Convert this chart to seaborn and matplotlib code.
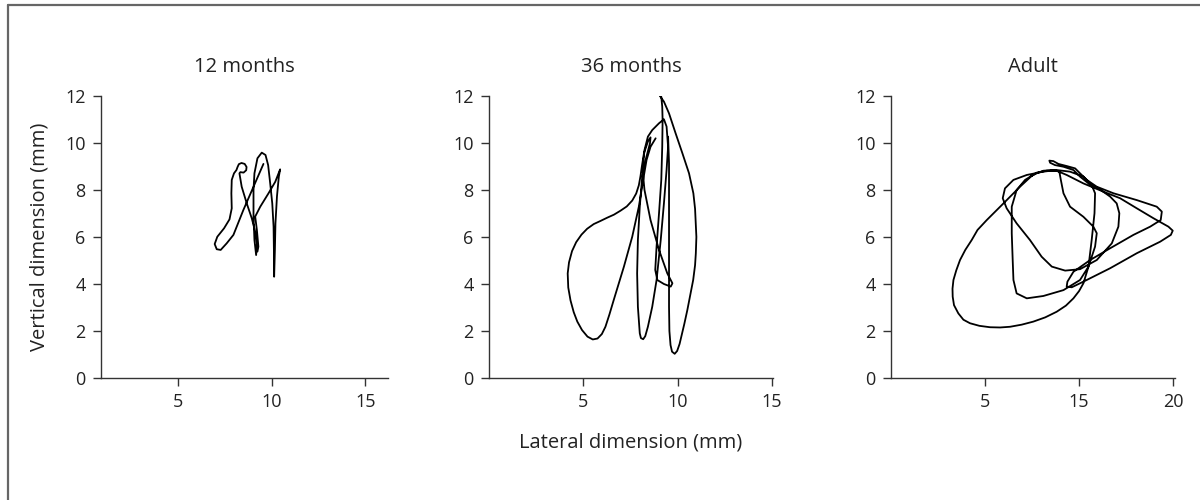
import matplotlib
matplotlib.use("Agg")
import matplotlib.pyplot as plt
from matplotlib.lines import Line2D
import pandas as pd
import seaborn as sns

# Jaw-movement traces (lateral vs vertical position, mm) for three age groups
titles = ["12 months", "36 months", "Adult"]

m12_x = [9.56, 9.03, 8.49, 7.96, 7.60, 7.28, 7.07, 6.96, 7.10, 7.46, 7.75, 7.87,
         7.85, 7.87, 7.99, 8.12, 8.18, 8.25, 8.39, 8.56, 8.66, 8.64, 8.50, 8.33,
         8.28, 8.40, 8.67, 8.94, 9.12, 9.21, 9.17, 9.08, 9.03, 9.03, 9.08, 9.24,
         9.47, 9.67, 9.81, 9.92, 10.03, 10.10, 10.12, 10.13, 10.17, 10.20, 10.28,
         10.38, 10.45, 10.19, 9.83, 9.39, 9.12, 9.21, 9.29, 9.24]
m12_y = [9.11, 8.14, 7.15, 6.09, 5.73, 5.45, 5.48, 5.70, 6.01, 6.37, 6.75, 7.22,
         7.86, 8.43, 8.71, 8.85, 8.98, 9.10, 9.15, 9.11, 8.98, 8.84, 8.74, 8.76,
         8.71, 8.14, 7.43, 6.79, 6.23, 5.73, 5.23, 5.87, 6.87, 8.00, 8.71, 9.35,
         9.59, 9.49, 9.06, 8.28, 7.43, 6.44, 5.31, 4.31, 5.45, 6.58, 7.72,
         8.57, 8.88, 8.35, 7.86, 7.29, 6.87, 6.30, 5.59, 5.38]

m36_x = [8.83, 8.56, 8.35, 8.17, 7.94, 7.59, 7.15, 6.61, 6.38, 6.17, 5.98, 5.75,
         5.50, 5.22, 4.93, 4.68, 4.49, 4.32, 4.20, 4.17, 4.24, 4.40, 4.62, 4.90,
         5.20, 5.55, 5.90, 6.26, 6.62, 6.97, 7.30, 7.59, 7.80, 7.94, 8.03, 8.10,
         8.21, 8.42, 8.56,
         8.53, 8.30, 8.12, 7.99, 7.89, 7.85, 7.89, 7.99, 8.05, 8.17, 8.28, 8.42,
         8.65, 8.88, 9.10, 9.27, 9.41, 9.49, 9.41, 9.27, 9.01, 8.65, 8.42, 8.24,
         8.14, 8.24, 8.56, 9.01, 9.45, 9.72, 9.63, 9.27, 8.92, 8.81, 8.88, 9.01,
         9.13, 9.18, 9.20, 9.18, 9.13, 9.06, 9.27, 9.54, 9.89, 10.25, 10.60,
         10.83, 10.92, 10.99, 10.96, 10.92, 10.82, 10.51, 10.35, 10.10, 9.97,
         9.84, 9.70, 9.62, 9.56, 9.54, 9.54, 9.54, 9.54, 9.54, 9.49]
m36_y = [10.20, 9.84, 9.28, 8.43, 7.29, 6.01, 4.74, 3.32, 2.70, 2.18, 1.87, 1.68,
         1.64, 1.76, 2.04, 2.40, 2.80, 3.30, 3.85, 4.45, 4.92, 5.40, 5.78, 6.10,
         6.35, 6.55, 6.68, 6.82, 6.95, 7.12, 7.30, 7.55, 7.85, 8.20, 8.60, 9.00,
         9.56, 10.06, 10.24,
         9.99, 9.28, 8.57, 7.29, 5.87, 4.45, 3.03, 1.90, 1.70, 1.65, 1.78, 2.18,
         3.03, 4.17, 5.87, 7.43, 8.85, 9.84, 10.70, 11.01, 10.84, 10.55, 10.27, 9.70,
         8.85, 8.00, 6.72, 5.45, 4.45, 4.03, 3.89, 4.00, 4.17, 4.60, 5.59, 7.01,
         8.43, 9.84, 10.98, 11.55, 11.97, 12.00, 11.76, 11.26, 10.41, 9.56, 8.71,
         7.86, 7.20, 6.00, 5.30, 4.80, 4.17, 2.89, 2.30, 1.45, 1.15,
         1.03, 1.12, 1.40, 2.00, 3.03, 4.74, 6.44, 7.86, 9.14, 10.27]

adult_x = [7.48, 6.86, 5.98, 5.09, 4.60, 4.29, 3.95, 3.67, 3.47, 3.32, 3.27, 3.28,
           3.35, 3.58, 3.85, 4.20, 4.70, 5.27, 5.80, 6.33, 6.95, 7.57, 8.20, 8.81,
           9.30, 9.70, 10.00, 10.23, 10.50, 10.67, 10.82, 10.85, 10.67, 10.23, 9.52,
           8.81, 8.10, 7.22, 6.51, 6.06, 5.94, 6.15, 6.68, 7.39, 8.01, 8.55, 9.26,
           10.05, 10.94, 11.74, 12.09, 12.14, 12.00, 11.65, 11.03, 10.50, 10.05,
           9.70, 9.17, 8.72, 8.46, 8.42, 8.63, 8.90, 9.34, 9.79, 10.05, 10.41,
           10.94, 11.83, 13.07, 14.13, 14.40, 14.34, 13.78, 12.89, 11.65, 10.59,
           9.70, 9.38, 9.34, 9.61, 10.23, 11.65, 13.07, 14.31, 14.88, 14.98, 14.75,
           13.95, 13.07, 12.18, 11.29, 10.23, 9.34, 8.81, 8.28, 7.75, 7.13, 6.68,
           6.42, 6.42, 6.47, 6.51, 6.68, 7.22, 8.10, 9.17, 10.05, 10.50, 10.85,
           10.94, 10.76, 10.23, 9.52, 9.17, 9.03, 8.95, 8.63, 8.10, 7.75, 7.48]
adult_y = [8.60, 8.14, 7.43, 6.72, 6.30, 5.87, 5.45, 5.02, 4.58, 4.17, 3.80, 3.46,
           3.10, 2.75, 2.48, 2.33, 2.22, 2.16, 2.15, 2.18, 2.27, 2.40, 2.58, 2.82,
           3.08, 3.39, 3.70, 4.03, 4.74, 5.87, 7.01, 7.86, 8.21, 8.57, 8.78,
           8.85, 8.78, 8.64, 8.43, 8.07, 7.65, 7.22, 6.58, 5.87, 5.16, 4.74, 4.57,
           4.63, 5.02, 5.73, 6.44, 7.01, 7.43, 7.72, 8.07, 8.28, 8.57,
           8.85, 8.99, 9.06, 9.16, 9.25, 9.23, 9.11, 9.02, 8.92, 8.71, 8.43,
           8.14, 7.86, 7.57, 7.29, 7.08, 6.72, 6.44, 6.09, 5.52, 5.02,
           4.52, 4.10, 3.89, 3.86, 4.10, 4.67, 5.31, 5.80, 6.09, 6.27, 6.44,
           6.80, 7.22, 7.65, 7.93, 8.28, 8.64, 8.82, 8.82, 8.74, 8.43, 8.00,
           7.29, 6.16, 5.02, 4.17, 3.60, 3.39, 3.49, 3.74, 4.17, 4.74, 5.59,
           6.16, 6.44, 6.86, 7.29, 7.86, 8.43, 8.78, 8.85, 8.82, 8.71, 8.60]

y_ticks = [0, 2, 4, 6, 8, 10, 12]
x_ticks = [5, 10, 15]
x_tick_labels = [["5", "10", "15"], ["5", "10", "15"], ["5", "15", "20"]]
x_limits = [(0.9, 16.2), (0.0, 15.05), (0.0, 15.1)]

series = [(m12_x, m12_y), (m36_x, m36_y), (adult_x, adult_y)]

sns.set_theme(style="ticks")
plt.rcParams["font.family"] = ["Open Sans", "DejaVu Sans"]

ink = "#222222"
fig = plt.figure(figsize=(12, 5), dpi=100)
fig.patch.set_facecolor("white")

# panel rectangles in figure fractions
lefts = [101 / 1200, 489 / 1200, 891 / 1200]
widths = [287 / 1200, 284 / 1200, 284 / 1200]
bottom = 122 / 500
height = 282 / 500

for i, (xs, ys) in enumerate(series):
    ax = fig.add_axes([lefts[i], bottom, widths[i], height])
    df = pd.DataFrame({"lateral": xs, "vertical": ys})
    sns.lineplot(data=df, x="lateral", y="vertical", sort=False, estimator=None,
                 color="black", linewidth=1.3, ax=ax)
    ax.lines[-1].set_solid_joinstyle("round")
    ax.set_xlim(*x_limits[i])
    ax.set_ylim(0, 12)
    ax.set_yticks(y_ticks)
    ax.set_yticklabels([str(v) for v in y_ticks])
    ax.set_xticks(x_ticks)
    ax.set_xticklabels(x_tick_labels[i])
    sns.despine(ax=ax)
    for side in ("left", "bottom"):
        ax.spines[side].set_color("#333333")
        ax.spines[side].set_linewidth(1.0)
    ax.tick_params(direction="out", length=6, width=1.0, color="#333333",
                   labelsize=13, labelcolor=ink, pad=5)
    ax.set_title(titles[i], fontsize=14.5, color=ink, pad=17)
    ax.set_xlabel("")
    ax.set_ylabel("")
    if i == 0:
        ax.set_ylabel("Vertical dimension (mm)", fontsize=14.5, color=ink, labelpad=11)
    if i == 1:
        ax.set_xlabel("Lateral dimension (mm)", fontsize=14.5, color=ink, labelpad=15)

# thin grey frame along the top and left edges
fig.add_artist(Line2D([7.5 / 1200, 7.5 / 1200], [0, 1 - 5 / 500],
                      transform=fig.transFigure, color="#666666", linewidth=1.6))
fig.add_artist(Line2D([7.5 / 1200, 1], [1 - 5 / 500, 1 - 5 / 500],
                      transform=fig.transFigure, color="#666666", linewidth=1.6))

fig.savefig("out.png", dpi=100)
